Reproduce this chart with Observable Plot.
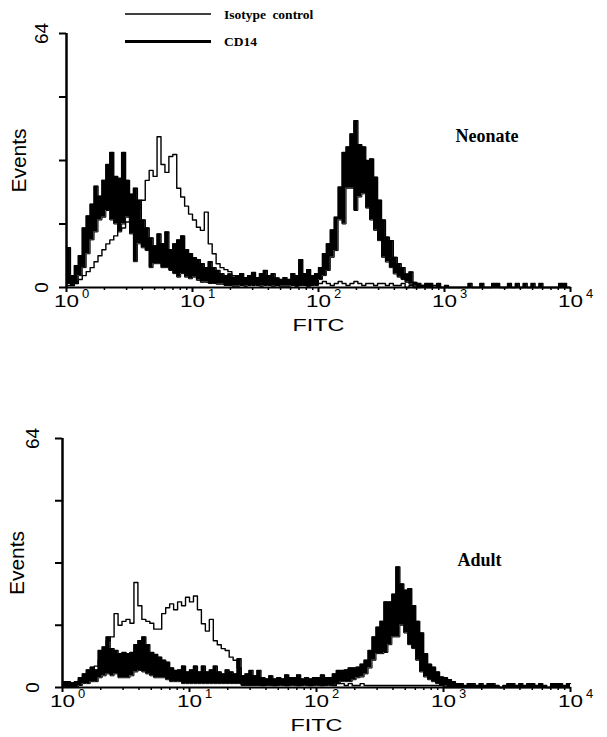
<!DOCTYPE html>
<html>
<head>
<meta charset="utf-8">
<script src="https://cdn.jsdelivr.net/npm/d3@7"></script>
<script src="https://cdn.jsdelivr.net/npm/@observablehq/plot@0.6"></script>
<style>
  body { margin: 0; background: #fff; }
  #wrap { position: relative; width: 607px; height: 737px; background: #fff; overflow: hidden; }
  #wrap > svg { position: absolute; left: 0; }
</style>
</head>
<body>
<div id="wrap"></div>
<script>
// ---- data: FITC histogram channels, 32 channels per decade, 10^0 .. 10^4 ----
const binsPerDecade = 32;

const neonateCD14Hi = [
  10, 3, 5.5, 8, 15, 18, 21, 25.5, 23, 27, 31, 34, 28, 27.5, 34, 27,
  23.5, 25, 22, 17, 15, 12.5, 10.5, 13.5, 11, 14, 9.5, 11, 12, 13, 9.5, 8.5,
  7.5, 7, 6, 5, 6.5, 5, 4.3, 3.5, 3, 3.4, 2.6, 3, 3.5, 2.5, 3, 3.8,
  2.5, 3.5, 4.3, 3, 3.5, 2.4, 2, 2.5, 2, 3.5, 3, 7, 3.5, 4.5, 3, 3.5,
  5, 8.5, 11, 14.5, 17.7, 25.3, 34, 35.4, 38.7, 42, 36, 35.4, 32, 32.4, 27.8, 22,
  17, 12.7, 11.8, 7.6, 6, 5, 3.4, 3.9, 1.3, 1, 0.5, 1, 1, 0, 1, 0,
  0.5, 0, 0, 0, 0, 0, 1, 0, 0, 1, 0, 0, 1, 1, 0, 0,
  1, 0, 1, 0, 1, 0, 1, 0, 1, 0, 0, 0, 0, 1, 1, 0
];
const neonateCD14Lo = [
  1, 0.5, 1, 3, 5, 8.5, 12, 14, 17, 17.7, 19.4, 17, 16, 14, 16, 17.7,
  13.5, 6.5, 11, 10, 9.3, 5, 6, 6, 5, 5, 4.3, 3.5, 2.6, 3.5, 2.6, 2.2,
  2.6, 1.8, 1.3, 1.3, 1, 1, 0.8, 0.8, 0.5, 0.5, 0.3, 0.3, 0.5, 0.3, 0.5, 0.5,
  0.5, 0.3, 0.5, 0.5, 0.3, 0.5, 0.3, 0.3, 0.3, 0.5, 0.3, 0.5, 0.5, 0.3, 0.5, 0.5,
  2, 3, 4.3, 7.6, 9.3, 17, 16, 25, 25, 19.4, 22.8, 23.6, 20, 17, 14.4, 11.8,
  7.6, 6.4, 5, 3.4, 2.6, 2, 1.3, 0.8, 0.3, 0, 0, 0, 0, 0, 0, 0,
  0, 0, 0, 0, 0, 0, 0, 0, 0, 0, 0, 0, 0, 0, 0, 0,
  0, 0, 0, 0, 0, 0, 0, 0, 0, 0, 0, 0, 0, 0, 0, 0
];
const neonateIsotype = [
  0.5, 0.5, 1, 2, 3, 4, 5, 6.5, 8, 9.5, 11, 12, 13, 14.4, 15, 16.5,
  18, 18.5, 20, 22, 27, 29.5, 28, 38, 31, 29, 33, 33.5, 25, 22.8, 20.5, 18.5,
  17, 15.2, 14.4, 19, 11, 8.5, 6, 5, 4.5, 4, 3, 2.5, 2, 1.5, 1.5, 1,
  1.5, 1, 1, 1.5, 1, 0.5, 1, 1, 1.5, 1, 0.5, 1, 1, 0.5, 1, 1,
  1, 1.5, 1, 0.5, 1, 1.5, 1, 0.5, 1, 1.5, 1, 0.5, 1, 1, 0.5, 1,
  1, 0.5, 1, 0.5, 0.5, 1, 0, 0.5, 0, 0, 0.5, 0, 0, 0.5, 0, 0,
  0, 0, 0, 0, 0, 0, 0, 0, 0, 0, 0, 0, 0, 0, 0, 0,
  0, 0, 0, 0, 0, 0, 0, 0, 0, 0, 0, 0, 0, 0, 0, 0
];

const adultCD14Hi = [
  1.5, 1.5, 1.2, 1.5, 2.5, 3.5, 4.5, 5.2, 4.5, 9.5, 10.4, 13, 10, 9.5, 8.7, 9,
  8.7, 9, 11, 12, 13, 11, 9, 8.5, 7.8, 7, 6.5, 5, 4.4, 4.5, 5.5, 4,
  4.5, 5.5, 4, 5.5, 4, 4.5, 5.5, 4, 3.5, 4.5, 4, 3.5, 7.4, 3, 3.5, 4.4,
  3, 4.4, 2.5, 2.2, 3, 2.2, 2.5, 2.2, 3.2, 2.5, 2.5, 3.2, 2.2, 2.5, 2.2, 2.5,
  2.5, 3.2, 2.5, 2.5, 3.5, 4.4, 4.4, 4.5, 5, 5, 5.2, 6, 7, 9.5, 13, 15.5,
  17, 22, 22, 24, 31, 26.6, 25, 25.4, 21, 17, 14, 8.7, 6, 5.2, 4, 2.7,
  2.5, 2, 1.5, 1, 1, 0.5, 1, 1, 0.5, 1, 0.5, 1, 1, 0.5, 0, 0.5,
  1, 1, 0.5, 1, 0.5, 1, 1, 0.5, 1, 0.5, 0, 1, 1, 1, 0.5, 1
];
const adultCD14Lo = [
  0, 0, 0, 0, 0.5, 1, 1, 1.5, 1.5, 2.5, 3, 3.5, 3, 3.5, 2.5, 2.5,
  2.5, 3, 4, 4.4, 4, 3.5, 3, 2.5, 2.5, 2.5, 2, 1.5, 1.5, 1.5, 1, 1,
  1, 1, 1, 1, 1, 1, 1, 1, 1, 1, 1, 1, 1, 0.5, 0.5, 0.5,
  0.5, 0.5, 0.5, 0.5, 0.5, 0.5, 0.5, 0.5, 0.5, 0.5, 0.5, 0.5, 0.5, 0.5, 0.5, 0.5,
  0.5, 0.5, 0.5, 0.5, 0.8, 1, 1.5, 1.5, 1.5, 2, 2.5, 2.7, 3.5, 5, 7, 8.7,
  8.7, 9, 11, 13, 13, 16, 14, 11, 10, 7, 4, 2.7, 2, 1.5, 1, 0.5,
  0.3, 0, 0, 0, 0, 0, 0, 0, 0, 0, 0, 0, 0, 0, 0, 0,
  0, 0, 0, 0, 0, 0, 0, 0, 0, 0, 0, 0, 0, 0, 0, 0
];
const adultIsotype = [
  0.5, 0.5, 0.5, 1, 2, 2.5, 3.5, 4.5, 5.5, 7, 8, 12, 13, 19, 16, 17,
  17.5, 16.5, 27, 21, 17.5, 17, 16.5, 15, 15, 19, 20.5, 21.5, 20, 22, 21, 23.2,
  22, 23.5, 20, 16.4, 14.5, 17.5, 12, 11, 10, 9.5, 7.8, 7, 5, 2.5, 1.5, 1,
  1.5, 1, 0.5, 1, 1, 0.5, 1, 1, 0.5, 1, 1, 0.5, 1, 1, 0.5, 1,
  1, 0.5, 1, 1, 0.5, 1, 1, 0.5, 1, 0.5, 0.5, 1, 0.5, 0.5, 0.5, 0.5,
  0.5, 0.5, 0.5, 0.5, 0.5, 0.5, 0.5, 0.5, 0.5, 0.5, 0.5, 0.5, 0.5, 0.5, 0.5, 0.5,
  0, 0, 0, 0, 0, 0, 0, 0, 0, 0, 0, 0, 0, 0, 0, 0,
  0, 0, 0, 0, 0, 0, 0, 0, 0, 0, 0, 0, 0, 0, 0, 0
];

// ---- axes / labels ----
const xTickValues = [1, 10, 100, 1000, 10000];
const xTickBase = ["10", "10", "10", "10", "10"];
const xTickExp = ["0", "1", "2", "3", "4"];
const xMinorTicks = [2, 3, 4, 5, 6, 7, 8, 9, 20, 30, 40, 50, 60, 70, 80, 90,
  200, 300, 400, 500, 600, 700, 800, 900, 2000, 3000, 4000, 5000, 6000, 7000, 8000, 9000];
const yTickValues = [0, 16, 32, 48, 64];
const yLabelValues = [0, 64];
const xLabel = "FITC";
const yLabel = "Events";
const panelNames = ["Neonate", "Adult"];
const legendLabels = ["Isotype control", "CD14"];
const legendWidths = [1.4, 3];

function toRows(hi, lo, iso) {
  const r = hi.map((h, i) => ({x: 10 ** (i / binsPerDecade), hi: h, lo: lo[i], iso: iso[i]}));
  r.push({...r[r.length - 1], x: 10 ** (hi.length / binsPerDecade)});
  return r;
}

function panel(rows, o) {
  const svg = Plot.plot({
    width: 607, height: o.height,
    marginTop: o.marginTop, marginBottom: o.marginBottom,
    marginLeft: o.marginLeft, marginRight: 37,
    x: {type: "log", domain: [1, 10000]},
    y: {domain: [0, 64]},
    style: {fontFamily: "'Liberation Sans', Arial, sans-serif", fontSize: "17px", color: "black", background: "white"},
    marks: [
      Plot.areaY(rows, {x: "x", y1: "lo", y2: "hi", curve: "step-after", fill: "black"}),
      Plot.lineY(rows, {x: "x", y: "hi", curve: "step-after", stroke: "black", strokeWidth: 1.4}),
      Plot.lineY(rows, {x: "x", y: "lo", curve: "step-after", stroke: "black", strokeWidth: 1}),
      Plot.lineY(rows, {x: "x", y: "iso", curve: "step-after", stroke: "black", strokeWidth: 1.4}),
      Plot.ruleX([1], {stroke: "black", strokeWidth: 2.5}),
      Plot.ruleY([0], {stroke: "black", strokeWidth: 2}),
      Plot.axisY({ticks: yTickValues, tickSize: 7, tickFormat: () => "", label: null, strokeWidth: 2}),
      Plot.axisX({ticks: xTickValues, tickSize: 5, tickFormat: () => "", label: null, strokeWidth: 2}),
      Plot.axisX({ticks: xMinorTicks, tickSize: 3, tickFormat: () => "", label: null, strokeWidth: 1.5}),
      Plot.text(xTickValues, {x: d => d, frameAnchor: "bottom", dy: 14, lineAnchor: "middle", textAnchor: "middle",
        text: (d, i) => xTickBase[i], fontSize: 17}),
      Plot.text(xTickValues, {x: d => d, frameAnchor: "bottom", dy: 6, dx: 19, lineAnchor: "middle", textAnchor: "middle",
        text: (d, i) => xTickExp[i], fontSize: 13}),
      Plot.text(yLabelValues, {y: d => d, frameAnchor: "left", dx: o.valueDx, rotate: -90, lineAnchor: "middle", textAnchor: "middle",
        text: d => String(d), fontSize: 19}),
      Plot.text([yLabel], {frameAnchor: "left", dx: o.eventsDx, rotate: -90, lineAnchor: "middle", textAnchor: "middle",
        text: d => d, fontSize: 21}),
      Plot.text([xLabel], {frameAnchor: "bottom", dy: 38, lineAnchor: "middle", textAnchor: "middle", text: d => d, fontSize: 17}),
      Plot.text([o.name], {frameAnchor: "top-right", dx: o.nameDx, dy: o.nameDy, textAnchor: "start", lineAnchor: "middle", text: d => d,
        fontFamily: "'Liberation Serif', 'Times New Roman', serif", fontWeight: "bold", fontSize: 18})
    ]
  });
  d3.select(svg).selectAll("text").each(function () {
    const t = this.textContent;
    if (t === "10") { this.setAttribute("textLength", 25); this.setAttribute("lengthAdjust", "spacingAndGlyphs"); }
    if (t === xLabel) { this.setAttribute("textLength", 52); this.setAttribute("lengthAdjust", "spacingAndGlyphs"); }
  });
  svg.style.top = o.top + "px";
  return svg;
}

const wrap = document.getElementById("wrap");
wrap.appendChild(panel(toRows(neonateCD14Hi, neonateCD14Lo, neonateIsotype),
  {top: 0, height: 345, marginTop: 33, marginBottom: 58, marginLeft: 66, valueDx: -25, eventsDx: -47,
   name: panelNames[0], nameDx: -115, nameDy: 103}));
wrap.appendChild(panel(toRows(adultCD14Hi, adultCD14Lo, adultIsotype),
  {top: 345, height: 392, marginTop: 93, marginBottom: 50, marginLeft: 62, valueDx: -30, eventsDx: -45,
   name: panelNames[1], nameDx: -113, nameDy: 122}));

// legend (above the top panel)
const leg = d3.select(wrap).append("svg")
  .attr("width", 607).attr("height", 56)
  .style("top", "0px").style("pointer-events", "none");
const items = leg.selectAll("g").data(legendLabels).join("g")
  .attr("transform", (d, i) => `translate(0,${[14, 41.5][i]})`);
items.append("line").attr("x1", 125).attr("x2", 211).attr("y1", 0).attr("y2", 0)
  .attr("stroke", "black").attr("stroke-width", (d, i) => legendWidths[i]);
items.append("text").attr("x", 224).attr("y", 0).attr("dy", "0.35em")
  .attr("font-family", "'Liberation Serif', 'Times New Roman', serif")
  .attr("font-weight", "bold").attr("font-size", 13.5).attr("word-spacing", 3)
  .text(d => d);
</script>
</body>
</html>
